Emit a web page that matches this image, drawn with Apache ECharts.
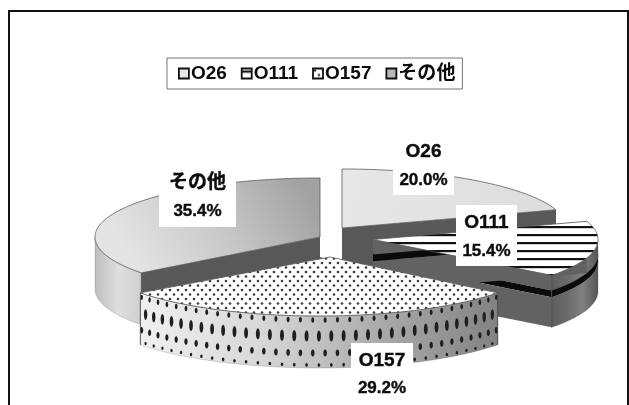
<!DOCTYPE html>
<html>
<head>
<meta charset="utf-8">
<script src="https://cdn.jsdelivr.net/npm/echarts@6/dist/echarts.min.js"></script>
<style>
html,body{margin:0;padding:0;background:#fff;overflow:hidden}
#chart{width:629px;height:405px}
</style>
</head>
<body>
<div id="chart"></div>
<script>
// Share of isolates by serogroup, percent
const categories = ['O26', 'O111', 'O157', 'その他'];
const shares = [20.0, 15.4, 29.2, 35.4];

// Projection of the tilted disc
const RX = 225, RY = 59, DEPTH = 52;
// Exploded slice apexes
const apexX = [342, 373, 319, 320];
const apexY = [228, 239.5, 257, 237];
// Sideways lean of the O157 tip caused by the perspective
const tipLean = [0, 0, 11, 0];
// Back-to-front paint order
const paintOrder = [3, 0, 1, 2];
// Label plates: left, top, width, height, first and second line centres
const plateX = [393, 456, 351, 159];
const plateY = [139, 205, 343, 165];
const plateW = [61, 61, 62, 77];
const plateH = [56, 61, 62, 62];
const LINE_1 = [13, 18, 18, 18];
const LINE_2 = [41, 46, 45, 46];

const FONT = '"Liberation Sans","Noto Sans CJK JP",sans-serif';
const INK = '#0c0c0c';

function tile(w, h, draw) {
  const c = document.createElement('canvas');
  c.width = w; c.height = h;
  const g = c.getContext('2d');
  g.fillStyle = '#fff';
  g.fillRect(0, 0, w, h);
  draw(g);
  return { image: c, repeat: 'repeat' };
}
const stripes = tile(4, 8, g => {
  g.fillStyle = '#111';
  g.fillRect(0, 2, 4, 2);
  g.fillStyle = '#cfcfcf';
  g.fillRect(0, 4, 4, 1);
});
const dots = tile(8, 9, g => {
  g.fillStyle = '#3a3a3a';
  [[2, 2], [6, 6.5]].forEach(([x, y]) => {
    g.beginPath(); g.arc(x, y, 1.3, 0, Math.PI * 2); g.fill();
  });
});
const grad = (x0, y0, x1, y1, stops) =>
  new echarts.graphic.LinearGradient(x0, y0, x1, y1, stops.map((c, i) => ({ offset: i / (stops.length - 1), color: c })));

const topFills = [
  grad(0, 0, 1, 0.6, ['#e8e8e8', '#dcdcdc']),
  stripes,
  dots,
  grad(0.2, 1, 0.9, 0, ['#e4e4e4', '#c8c8c8', '#a2a2a2'])
];
const DARK_WALL = '#585858';
const bandGrey = grad(0, 0, 1, 0, ['#5e5e5e', '#6a6a6a', '#808080', '#555555']);
// Wall bands per slice: from, to (share of the depth), paint
const wallBands = [
  [[0, 1, DARK_WALL, DARK_WALL]],
  [[0, 0.29, '#626262', bandGrey], [0.29, 0.42, '#0a0a0a', '#0a0a0a'], [0.42, 1, '#626262', bandGrey]],
  [[0, 1, DARK_WALL, grad(0, 0, 1, 0, ['#f0f0f0', '#d8d8d8', '#ababab', '#828282'])]],
  [[0, 1, DARK_WALL, grad(0, 0, 1, 0, ['#bdbdbd', '#dedede', '#cfcfcf'])]]
];

const rad = d => d * Math.PI / 180;
const px = (i, t) => apexX[i] + RX * Math.sin(rad(t));
const py = (i, t) => apexY[i] - RY * Math.cos(rad(t));

function arcPoints(i, from, to, dy) {
  const pts = [];
  const n = Math.max(2, Math.ceil(Math.abs(to - from)));
  for (let k = 0; k <= n; k++) {
    const t = from + (to - from) * k / n;
    pts.push([px(i, t), py(i, t) + dy]);
  }
  return pts;
}

function sliceRange(i) {
  const total = shares.reduce((a, b) => a + b, 0);
  let s = 0;
  for (let k = 0; k < i; k++) s += shares[k];
  return [s / total * 360, (s + shares[i]) / total * 360];
}

function sliceGroup(i) {
  const [a0, a1] = sliceRange(i);
  const children = [];
  const ax = apexX[i], ay = apexY[i];
  wallBands[i].forEach(([f, t, radial, outer]) => {
    const d0 = f * DEPTH, d1 = t * DEPTH;
    [a0, a1].forEach(a => {
      children.push({
        type: 'polygon',
        shape: { points: [[ax, ay + d0], [px(i, a), py(i, a) + d0], [px(i, a), py(i, a) + d1], [ax, ay + d1]] },
        style: { fill: radial }
      });
    });
    const lo = Math.max(a0, 90), hi = Math.min(a1, 270);
    if (lo < hi) {
      children.push({
        type: 'polygon',
        shape: { points: arcPoints(i, lo, hi, d0).concat(arcPoints(i, hi, lo, d1)) },
        style: { fill: outer, stroke: outer === DARK_WALL ? null : 'rgba(40,40,40,0.35)', lineWidth: 0.5 }
      });
    }
  });
  // Vertical ellipses that follow the rim of the O157 wall, narrowing towards its ends
  if (i === 2) {
    const rows = [[4, 1.5, 2.8, 0], [20, 2, 5.6, 1], [37, 1.8, 3.4, 0], [49, 1.3, 1.8, 1]];
    const step = 3.15;
    rows.forEach(([d, rx, ry, odd]) => {
      for (let t = a0 + 0.6 + odd * step / 2; t < a1; t += step) {
        const narrow = 0.55 + 0.45 * Math.abs(Math.cos(rad(t)));
        children.push({
          type: 'ellipse',
          shape: { cx: px(i, t), cy: py(i, t) + d, rx: rx * narrow, ry: ry * (0.75 + 0.25 * narrow) },
          style: { fill: '#1e1e1e' }
        });
      }
    });
  }
  // Dark edge at the outer wall's ends
  [a0, a1].forEach(a => {
    const s = ((a % 360) + 360) % 360;
    if (s > 90 && s < 270) {
      children.push({
        type: 'line',
        shape: { x1: px(i, a), y1: py(i, a), x2: px(i, a), y2: py(i, a) + DEPTH },
        style: { stroke: '#4a4a4a', lineWidth: 0.8 }
      });
    }
  });
  children.push({
    type: 'polygon',
    shape: { points: [[ax + tipLean[i], ay]].concat(arcPoints(i, a0, a1, 0)) },
    style: { fill: topFills[i], stroke: '#5a5a5a', lineWidth: 0.8 }
  });
  return { type: 'group', children };
}

function labelGroup(i) {
  const x = plateX[i], y = plateY[i], w = plateW[i];
  const mk = (text, dy, size) => ({
    type: 'text',
    style: {
      text, x: x + w / 2, y: y + dy,
      align: 'center', verticalAlign: 'middle',
      font: 'bold ' + size + 'px ' + FONT, fill: INK,
      stroke: INK, lineWidth: 0.4
    }
  });
  return {
    type: 'group',
    children: [
      { type: 'rect', shape: { x, y, width: w, height: plateH[i] }, style: { fill: '#fff' } },
      mk(categories[i], LINE_1[i], 19),
      mk(shares[i].toFixed(1) + '%', LINE_2[i], 17)
    ]
  };
}

const legendPaints = [
  { color: '#e6e6e6' }, { color: stripes }, { color: dots }, { color: '#b9b9b9' }
];

const series = paintOrder.map((i, order) => ({
  type: 'custom',
  name: categories[i],
  coordinateSystem: 'none',
  silent: true,
  z: order + 1,
  data: [shares[i]],
  renderItem: () => sliceGroup(i)
}));
series.push({
  type: 'custom',
  name: 'labels',
  coordinateSystem: 'none',
  silent: true,
  z: 10,
  data: shares.slice(),
  renderItem: params => labelGroup(params.dataIndex)
});

const chart = echarts.init(document.getElementById('chart'), null, { renderer: 'canvas' });
chart.setOption({
  animation: false,
  backgroundColor: '#fff',
  legend: {
    data: categories.map((name, i) => ({
      name,
      icon: 'rect',
      itemStyle: Object.assign({ borderColor: '#111', borderWidth: 1.8 }, legendPaints[i])
    })),
    left: 167,
    top: 58,
    orient: 'horizontal',
    itemWidth: 10,
    itemHeight: 10,
    itemGap: 14,
    padding: [5, 7, 5, 11],
    selectedMode: false,
    borderColor: '#777',
    borderWidth: 1,
    backgroundColor: '#fff',
    textStyle: { fontFamily: FONT, fontWeight: 'bold', fontSize: 19, color: INK, padding: [0, 0, 0, -3], lineHeight: 21 }
  },
  graphic: [{
    type: 'rect',
    z: 0,
    silent: true,
    shape: { x: 9, y: 11, width: 619, height: 430 },
    style: { fill: 'none', stroke: '#111', lineWidth: 2 }
  }],
  series
});
</script>
</body>
</html>
